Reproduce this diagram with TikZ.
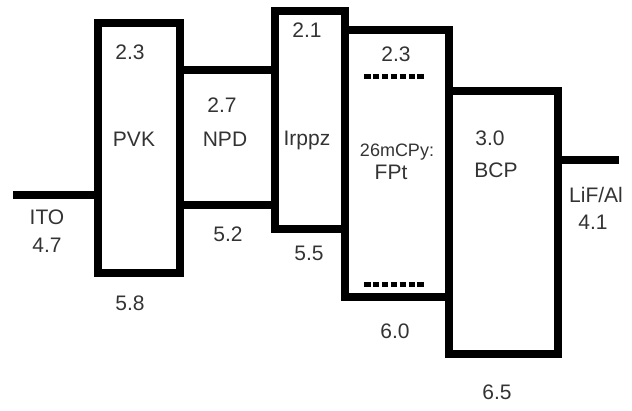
\documentclass[tikz,border=0pt]{standalone}
\usepackage{fontspec}
\setmainfont{Liberation Sans}

\begin{document}
\begin{tikzpicture}[x=1pt,y=-1pt,
  layer/.style={draw,rectangle,line width=8pt,inner sep=0pt,outer sep=0pt,anchor=north west},
  wire/.style={line width=8pt},
  trap/.style={line width=5pt,dash pattern=on 6.5pt off 2.4pt},
  lvl/.style={text=black!80,inner sep=0pt,font=\fontsize{21}{24}\selectfont},
  small/.style={lvl,font=\fontsize{18}{20}\selectfont}]
  \useasboundingbox (0,0) rectangle (632,411);
  % layers
  \node[layer,minimum width=82pt,minimum height=249.5pt] (pvk) at (98,23.5) {};
  \node[layer,minimum width=95pt,minimum height=135pt] (npd) at (180,70) {};
  \node[layer,minimum width=70pt,minimum height=218pt] (irppz) at (275,11) {};
  \node[layer,minimum width=104pt,minimum height=267pt] (fpt) at (345,30) {};
  \node[layer,minimum width=109pt,minimum height=263pt] (bcp) at (449,91) {};
  % electrodes
  \coordinate (ito) at (13,195);
  \coordinate (lif) at (619,160);
  \draw[wire] (ito) -- (ito -| pvk.west);
  \draw[wire] (bcp.east |- lif) -- (lif);
  % dopant levels
  \coordinate (t1) at (364,77);
  \coordinate (t2) at (364,285);
  \draw[trap] (t1) -- ++(62,0);
  \draw[trap] (t2) -- ++(62,0);
  % labels
  \node[lvl] (pvkl) at (130,52) {2.3};
  \node[lvl] (pvkn) at (134,139) {PVK};
  \node[lvl] (pvkh) at (130,303) {5.8};
  \node[lvl] (npdl) at (222,105) {2.7};
  \node[lvl] (npdn) at (225,139) {NPD};
  \node[lvl] (npdh) at (228,234) {5.2};
  \node[lvl] (irl) at (307,30) {2.1};
  \node[lvl] (irn) at (307,140) {Irppz};
  \node[lvl] (irh) at (309,253) {5.5};
  \node[lvl] (fptl) at (396,54) {2.3};
  \node[small] (fptn) at (397,152) {26mCPy:};
  \node[lvl] (fptm) at (391,172) {FPt};
  \node[lvl] (fpth) at (395,331) {6.0};
  \node[lvl] (bcpl) at (490,138) {3.0};
  \node[lvl] (bcpn) at (496,170) {BCP};
  \node[lvl] (bcph) at (497,392) {6.5};
  \node[lvl] (iton) at (47,217) {ITO};
  \node[lvl] (itol) at (47,245) {4.7};
  \node[lvl] (lifn) at (596,195) {LiF/Al};
  \node[lvl] (lifl) at (593,222) {4.1};
\end{tikzpicture}
\end{document}
